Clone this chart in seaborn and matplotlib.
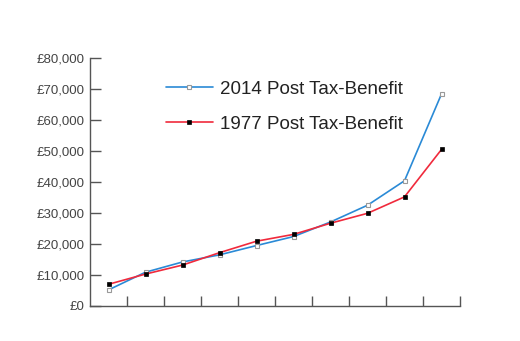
import matplotlib
matplotlib.use("Agg")
import matplotlib.pyplot as plt
import seaborn as sns
import pandas as pd
from matplotlib.ticker import FuncFormatter, MultipleLocator

deciles = list(range(1, 11))
post_2014 = [5200, 10900, 14200, 16500, 19500, 22400, 27100, 32500, 40400, 68400]
post_1977 = [7000, 10300, 13200, 17200, 20900, 23100, 26700, 29900, 35200, 50500]
labels = ["2014 Post Tax-Benefit", "1977 Post Tax-Benefit"]

sns.set_theme(style="white")
plt.rcParams["font.family"] = ["Liberation Sans", "DejaVu Sans"]

df = pd.DataFrame({
    "pos": [d - 1 for d in deciles] * 2,
    "value": post_2014 + post_1977,
    "series": [labels[0]] * 10 + [labels[1]] * 10,
})

fig = plt.figure(figsize=(5.2, 3.41), dpi=100)
ax = fig.add_axes([90 / 520, 1 - 306 / 341, 370 / 520, 248 / 341])

sns.lineplot(data=df[df.series == labels[0]], x="pos", y="value", ax=ax,
             color="#2a8ad6", lw=1.2, marker="s", markersize=3.2,
             markerfacecolor="white", markeredgecolor="#999999",
             markeredgewidth=0.8, label=labels[0])
sns.lineplot(data=df[df.series == labels[1]], x="pos", y="value", ax=ax,
             color="#f02a3c", lw=1.2, marker="s", markersize=3.2,
             markerfacecolor="black", markeredgecolor="black",
             markeredgewidth=0.5, label=labels[1])

ax.set_xlim(-0.5, 9.5)
ax.set_ylim(0, 80000)
ax.yaxis.set_major_locator(MultipleLocator(10000))
ax.yaxis.set_major_formatter(FuncFormatter(lambda v, p: "£{:,.0f}".format(v)))
ax.set_xticks([i + 0.5 for i in range(10)])
ax.set_xticklabels([])
ax.set_xlabel("")
ax.set_ylabel("")
for s in ["top", "right"]:
    ax.spines[s].set_visible(False)
for s in ["left", "bottom"]:
    ax.spines[s].set_color("#555555")
    ax.spines[s].set_linewidth(1.0)
ax.tick_params(axis="y", direction="in", length=8, width=1, color="#555555",
               labelsize=9.5, labelcolor="#444444", pad=4, left=True)
ax.tick_params(axis="x", direction="in", length=7, width=1, color="#555555",
               bottom=True)

leg = ax.legend(loc="upper left", bbox_to_anchor=(149 / 520, 1 - 64 / 341),
                bbox_transform=fig.transFigure, frameon=False, fontsize=13.5,
                handlelength=2.5, handletextpad=0.4, labelspacing=0.95,
                markerscale=0.8)
for t in leg.get_texts():
    t.set_color("#222222")

fig.savefig("out.png", dpi=100)
